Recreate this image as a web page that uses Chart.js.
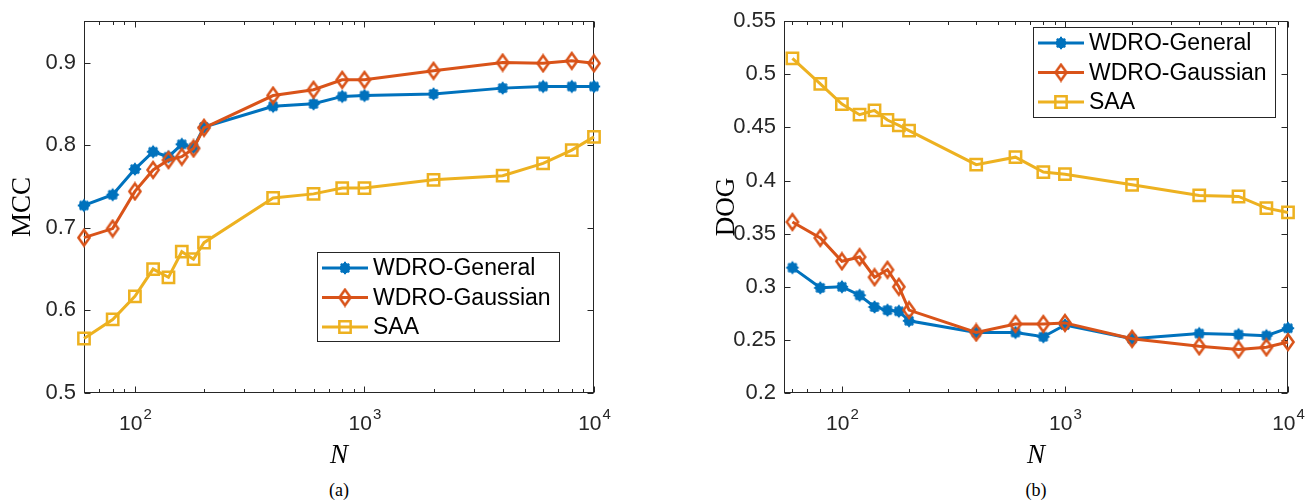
<!DOCTYPE html>
<html>
<head>
<meta charset="utf-8">
<script src="https://cdn.jsdelivr.net/npm/chart.js@4.4.1/dist/chart.umd.min.js"></script>
<style>
  body { margin: 0; background: #fff; width: 1315px; height: 503px; position: relative; overflow: hidden; }
  canvas { position: absolute; top: 0; }
  .cap { position: absolute; top: 480px; font: 18px "Liberation Serif", serif; transform: translateX(-50%); color: #000; }
</style>
</head>
<body>
<canvas id="mccChart" width="655" height="475" style="left:0"></canvas>
<canvas id="dogChart" width="660" height="475" style="left:655px"></canvas>
<div class="cap" style="left:339px">(a)</div>
<div class="cap" style="left:1036px">(b)</div>
<script>
var nValues = [60, 80, 100, 120, 140, 160, 180, 200, 400, 600, 800, 1000, 2000, 4000, 6000, 8000, 10000];

// panel (a): MCC
var mccGeneral  = [0.727, 0.740, 0.771, 0.792, 0.786, 0.801, 0.797, 0.822, 0.847, 0.850, 0.859, 0.860, 0.862, 0.869, 0.871, 0.871, 0.871];
var mccGaussian = [0.688, 0.699, 0.744, 0.770, 0.782, 0.786, 0.796, 0.821, 0.860, 0.867, 0.879, 0.879, 0.890, 0.900, 0.899, 0.902, 0.899];
var mccSAA      = [0.566, 0.589, 0.617, 0.650, 0.640, 0.671, 0.662, 0.682, 0.736, 0.741, 0.748, 0.748, 0.758, 0.763, 0.778, 0.794, 0.810];

// panel (b): DOG
var dogGeneral  = [0.318, 0.299, 0.300, 0.292, 0.281, 0.278, 0.277, 0.268, 0.257, 0.257, 0.253, 0.264, 0.251, 0.256, 0.255, 0.254, 0.261];
var dogGaussian = [0.361, 0.346, 0.324, 0.328, 0.309, 0.316, 0.300, 0.278, 0.257, 0.265, 0.265, 0.266, 0.251, 0.244, 0.241, 0.243, 0.248];
var dogSAA      = [0.515, 0.491, 0.472, 0.462, 0.466, 0.457, 0.452, 0.447, 0.415, 0.422, 0.408, 0.406, 0.396, 0.386, 0.385, 0.374, 0.370];

var seriesNames = ['WDRO-General', 'WDRO-Gaussian', 'SAA'];
var xMajorTicks = [100, 1000, 10000];
var xMinorTicks = [60, 70, 80, 90, 200, 300, 400, 500, 600, 700, 800, 900, 2000, 3000, 4000, 5000, 6000, 7000, 8000, 9000];
var mccTicks = [0.5, 0.6, 0.7, 0.8, 0.9];
var dogTicks = [0.2, 0.25, 0.3, 0.35, 0.4, 0.45, 0.5, 0.55];

var BLUE = '#0072BD', ORANGE = '#D95319', YELLOW = '#EDB120';
var AXIS = '#262626';

// MATLAB-like markers drawn once on small canvases
function starMarker(color) {
  var c = document.createElement('canvas');
  c.width = 16; c.height = 16;
  var g = c.getContext('2d');
  g.fillStyle = color; g.strokeStyle = color; g.lineWidth = 2;
  g.beginPath(); g.arc(8, 8, 5.2, 0, Math.PI * 2); g.fill();
  g.beginPath();
  g.moveTo(8, 1.8); g.lineTo(8, 14.2);
  g.moveTo(1.8, 8); g.lineTo(14.2, 8);
  g.moveTo(3.8, 3.8); g.lineTo(12.2, 12.2);
  g.moveTo(12.2, 3.8); g.lineTo(3.8, 12.2);
  g.stroke();
  return c;
}
function diamondMarker(color) {
  var c = document.createElement('canvas');
  c.width = 16; c.height = 20;
  var g = c.getContext('2d');
  g.strokeStyle = color; g.lineWidth = 2.5; g.lineJoin = 'miter';
  g.beginPath();
  g.moveTo(8, 2.2); g.lineTo(13.6, 10); g.lineTo(8, 17.8); g.lineTo(2.4, 10); g.closePath();
  g.stroke();
  return c;
}

function series(name, vals, color, style, radius, order) {
  return {
    label: name,
    data: nValues.map(function (n, i) { return { x: n, y: vals[i] }; }),
    borderColor: color,
    backgroundColor: 'rgba(0,0,0,0)',
    pointBackgroundColor: 'rgba(0,0,0,0)',
    pointBorderColor: color,
    pointStyle: style,
    pointRadius: radius,
    pointBorderWidth: 2.5,
    borderWidth: 3,
    tension: 0,
    clip: false,
    order: order
  };
}

// MATLAB-style box, inward ticks, 10^n labels, legend inside the axes
var matlabAxes = {
  id: 'matlabAxes',
  beforeDatasetsDraw: function (chart) {
    var ctx = chart.ctx, a = chart.chartArea, xs = chart.scales.x, ys = chart.scales.y;
    var L = Math.round(a.left) + 0.5, R = Math.round(a.right) - 0.5;
    var T = Math.round(a.top) + 0.5, B = Math.round(a.bottom) - 0.5;
    ctx.save();
    ctx.strokeStyle = AXIS;
    ctx.lineWidth = 1;
    ctx.strokeRect(L, T, R - L, B - T);
    ctx.beginPath();
    function xTick(v, len) {
      var px = Math.round(xs.getPixelForValue(v)) + 0.5;
      ctx.moveTo(px, B); ctx.lineTo(px, B - len);
      ctx.moveTo(px, T); ctx.lineTo(px, T + len);
    }
    xMajorTicks.forEach(function (v) { xTick(v, 6); });
    xMinorTicks.forEach(function (v) { if (v >= xs.min) xTick(v, 3.5); });
    ys.ticks.forEach(function (t) {
      var py = Math.round(ys.getPixelForValue(t.value)) + 0.5;
      ctx.moveTo(L, py); ctx.lineTo(L + 6, py);
      ctx.moveTo(R, py); ctx.lineTo(R - 6, py);
    });
    ctx.stroke();

    // x tick labels: 10 with raised exponent
    ctx.fillStyle = AXIS;
    ctx.textBaseline = 'alphabetic';
    ctx.textAlign = 'left';
    xMajorTicks.forEach(function (v) {
      var px = xs.getPixelForValue(v);
      var exp = String(Math.round(Math.log10(v)));
      ctx.font = '21px "Liberation Sans", Arial, sans-serif';
      var w1 = ctx.measureText('10').width;
      ctx.font = '15px "Liberation Sans", Arial, sans-serif';
      var w2 = ctx.measureText(exp).width;
      var x0 = px - (w1 + w2) / 2;
      ctx.font = '21px "Liberation Sans", Arial, sans-serif';
      ctx.fillText('10', x0, a.bottom + 37);
      ctx.font = '15px "Liberation Sans", Arial, sans-serif';
      ctx.fillText(exp, x0 + w1 + 1, a.bottom + 26);
    });
    ctx.restore();
  },
  afterDraw: function (chart, args, opts) {
    var lg = opts.legend;
    if (!lg) return;
    var ctx = chart.ctx;
    ctx.save();
    ctx.fillStyle = '#fff';
    ctx.fillRect(lg.x, lg.y, lg.w, lg.h);
    ctx.strokeStyle = AXIS;
    ctx.lineWidth = 1;
    ctx.strokeRect(lg.x + 0.5, lg.y + 0.5, lg.w, lg.h);
    chart.data.datasets.forEach(function (ds, i) {
      var cy = lg.y + 16 + i * 29.5;
      ctx.strokeStyle = ds.borderColor;
      ctx.lineWidth = ds.borderWidth;
      ctx.beginPath();
      ctx.moveTo(lg.x + 5, cy);
      ctx.lineTo(lg.x + 51, cy);
      ctx.stroke();
      ctx.fillStyle = ds.pointBackgroundColor;
      ctx.lineWidth = ds.pointBorderWidth;
      Chart.helpers.drawPoint(ctx, {
        pointStyle: ds.pointStyle, radius: ds.pointRadius, borderWidth: ds.pointBorderWidth, rotation: 0
      }, lg.x + 28, cy);
      ctx.fillStyle = '#000';
      ctx.font = '23px "Liberation Sans", Arial, sans-serif';
      ctx.textBaseline = 'middle';
      ctx.textAlign = 'left';
      ctx.fillText(ds.label, lg.x + 56, cy + 1);
    });
    ctx.restore();
  }
};

function makeChart(id, cfg) {
  return new Chart(document.getElementById(id), {
    type: 'line',
    data: {
      datasets: [
        series(seriesNames[0], cfg.general, BLUE, starMarker(BLUE), 6, 3),
        series(seriesNames[1], cfg.gaussian, ORANGE, diamondMarker(ORANGE), 8, 2),
        series(seriesNames[2], cfg.saa, YELLOW, 'rect', 8, 1)
      ]
    },
    options: {
      responsive: false,
      animation: false,
      devicePixelRatio: 1,
      layout: { padding: { left: 0, right: cfg.padRight, top: 14, bottom: 0 } },
      scales: {
        x: {
          type: 'logarithmic',
          min: cfg.xMin,
          max: 10000,
          afterBuildTicks: function (s) { s.ticks = xMajorTicks.map(function (v) { return { value: v }; }); },
          afterFit: function (s) { s.height = 82; },
          grid: { display: false, drawTicks: false },
          border: { display: false },
          ticks: { display: false },
          title: {
            display: true, text: 'N', color: '#000',
            font: { family: '"Liberation Serif", serif', size: 27, style: 'italic' },
            padding: { top: 0, bottom: 3 }
          }
        },
        y: {
          type: 'linear',
          min: cfg.yMin,
          max: cfg.yMax,
          afterBuildTicks: function (s) { s.ticks = cfg.yTicks.map(function (v) { return { value: v }; }); },
          afterFit: function (s) { s.width = cfg.yWidth; },
          grid: { display: false, drawTicks: false },
          border: { display: false },
          ticks: {
            autoSkip: false,
            padding: 8,
            color: AXIS,
            font: { family: '"Liberation Sans", Arial, sans-serif', size: 22 },
            callback: function (v) { return String(+Number(v).toFixed(2)); }
          },
          title: {
            display: true, text: cfg.yTitle, color: '#000',
            font: { family: '"Liberation Serif", serif', size: 27 },
            padding: { top: cfg.titlePad, bottom: 0 }
          }
        }
      },
      plugins: {
        legend: { display: false },
        tooltip: { enabled: false },
        matlabAxes: { legend: cfg.legend }
      }
    },
    plugins: [matlabAxes]
  });
}

makeChart('mccChart', {
  general: mccGeneral, gaussian: mccGaussian, saa: mccSAA,
  yTitle: 'MCC', yTicks: mccTicks, yMin: 0.5, yMax: 0.95,
  xMin: 60, yWidth: 84, padRight: 61, titlePad: 7,
  legend: { x: 317, y: 252, w: 242, h: 89 }
});

makeChart('dogChart', {
  general: dogGeneral, gaussian: dogGaussian, saa: dogSAA,
  yTitle: 'DOG', yTicks: dogTicks, yMin: 0.2, yMax: 0.55,
  xMin: 55, yWidth: 129, padRight: 27, titlePad: 56,
  legend: { x: 378, y: 27, w: 242, h: 90 }
});
</script>
</body>
</html>
